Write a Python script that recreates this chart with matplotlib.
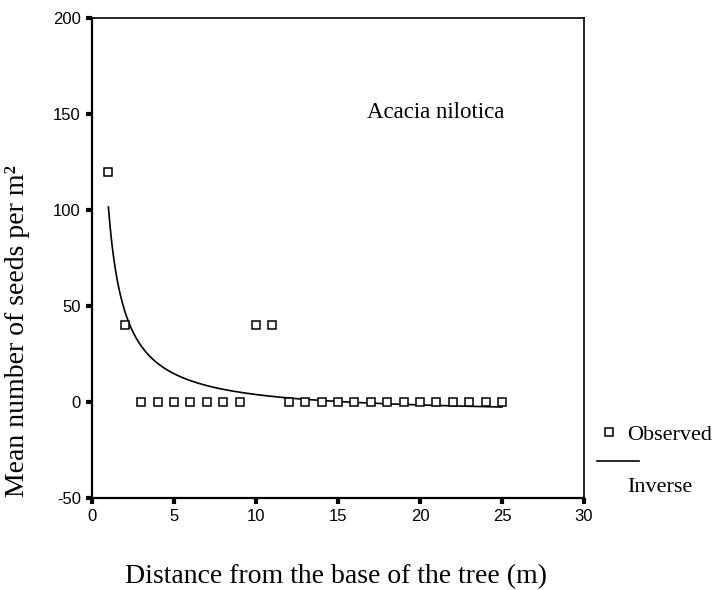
import numpy as np
import matplotlib
matplotlib.use("Agg")
import matplotlib.pyplot as plt
from matplotlib.lines import Line2D

# observed mean seeds per m2 at each distance (m)
distance = [1, 2, 3, 4, 5, 6, 7, 8, 9, 10, 11, 12, 13,
            14, 15, 16, 17, 18, 19, 20, 21, 22, 23, 24, 25]
seeds = [120, 40, 0, 0, 0, 0, 0, 0, 0, 40, 40, 0, 0,
         0, 0, 0, 0, 0, 0, 0, 0, 0, 0, 0, 0]

x_ticks = [0, 5, 10, 15, 20, 25, 30]
y_ticks = [-50, 0, 50, 100, 150, 200]

SERIF = ["Liberation Serif", "DejaVu Serif"]
SANS = ["Liberation Sans", "DejaVu Sans"]

plt.rcParams["axes.unicode_minus"] = False

# inverse model y = b0 + b1/x, least squares on the observed points
dist = np.array(distance, dtype=float)
b1, b0 = np.polyfit(1.0 / dist, np.array(seeds, dtype=float), 1)
xs = np.linspace(dist.min(), dist.max(), 300)
fit = b0 + b1 / xs

fig = plt.figure(figsize=(7.19, 5.90), dpi=100)
ax = fig.add_axes([92 / 719, 1 - 498 / 590, 492 / 719, 480 / 590])

ax.plot(distance, seeds, linestyle="none", marker="s", markersize=5.5,
        markerfacecolor="white", markeredgecolor="black", markeredgewidth=1.1,
        clip_on=False, zorder=3)
ax.plot(xs, fit, color="black", linewidth=1.2)

ax.set_xlim(0, 30)
ax.set_ylim(-50, 200)
ax.set_xticks(x_ticks)
ax.set_yticks(y_ticks)
for lab in ax.get_xticklabels() + ax.get_yticklabels():
    lab.set_family(SANS)
    lab.set_fontsize(12)
ax.tick_params(direction="out", length=4, width=3, pad=4, color="black")

for side in ["left", "bottom"]:
    ax.spines[side].set_linewidth(1.6)
for side in ["top", "right"]:
    ax.spines[side].set_linewidth(1.2)

ax.text(367 / 719, 1 - 113 / 590, "Acacia nilotica", transform=fig.transFigure,
        family=SERIF, fontsize=16.5, ha="left", va="center")

fig.text(336 / 719, 1 - 577 / 590, "Distance from the base of the tree (m)",
         family=SERIF, fontsize=20, ha="center", va="center")
fig.text(18 / 719, 1 - 331 / 590, "Mean number of seeds per m²",
         family=SERIF, fontsize=20, ha="center", va="center", rotation=90)

# legend drawn outside the axes on the right
fig.add_artist(Line2D([609 / 719], [1 - 432 / 590], marker="s", markersize=5.5,
                      markerfacecolor="white", markeredgecolor="black",
                      markeredgewidth=1.1, linestyle="none",
                      transform=fig.transFigure))
fig.text(627 / 719, 1 - 435 / 590, "Observed", family=SERIF, fontsize=16,
         ha="left", va="center")
fig.add_artist(Line2D([597 / 719, 639 / 719], [1 - 461 / 590, 1 - 461 / 590],
                      color="black", linewidth=1.2, transform=fig.transFigure))
fig.text(627 / 719, 1 - 487 / 590, "Inverse", family=SERIF, fontsize=16,
         ha="left", va="center")

fig.savefig("out.png", dpi=100)
